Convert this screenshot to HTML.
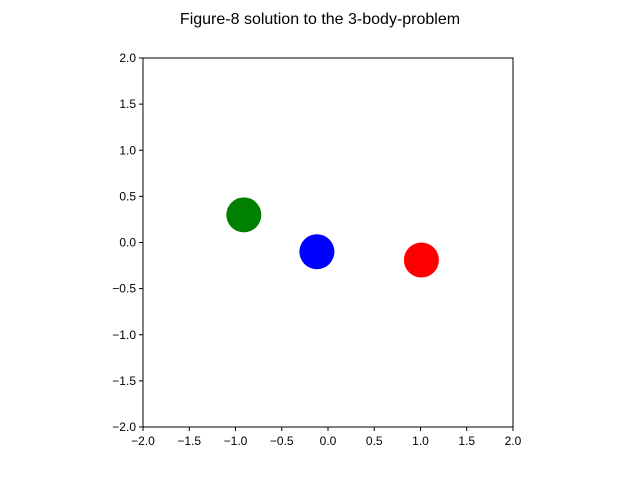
<!DOCTYPE html>
<html><head><meta charset="utf-8"><style>
body{margin:0;background:#fff;}
svg{display:block;font-family:"Liberation Sans","DejaVu Sans",sans-serif;}
</style></head><body>
<svg id="chart" width="640" height="480">
<text x="320" y="24" text-anchor="middle" font-size="16">Figure-8 solution to the 3-body-problem</text>
<g id="bodies"></g>
<rect x="143" y="58" width="370" height="369" fill="none" stroke="#000" stroke-width="1"/>
<g id="xticks"></g>
<g id="yticks"></g>
</svg>
<script>
const bodyNames = ["green", "blue", "red"];
const bodyX = [-0.91, -0.12, 1.01];
const bodyY = [0.30, -0.10, -0.19];
const bodyColors = ["green", "blue", "red"];
const tickValues = [-2.0, -1.5, -1.0, -0.5, 0.0, 0.5, 1.0, 1.5, 2.0];
const tickLabels = ["\u22122.0","\u22121.5","\u22121.0","\u22120.5","0.0","0.5","1.0","1.5","2.0"];
const NS="http://www.w3.org/2000/svg";
const x0=143,x1=513,y0=58,y1=427;
function sx(v){return x0+(v+2)/4*(x1-x0);}
function sy(v){return y1-(v+2)/4*(y1-y0);}
function mk(tag,attrs,parent){const e=document.createElementNS(NS,tag);for(const k in attrs)e.setAttribute(k,attrs[k]);parent.appendChild(e);return e;}
const gb=document.getElementById('bodies');
for(let i=0;i<bodyX.length;i++){
  const c=mk('circle',{cx:sx(bodyX[i]),cy:sy(bodyY[i]),r:17.5,fill:bodyColors[i]},gb);
  
  
}
const gx=document.getElementById('xticks'),gy=document.getElementById('yticks');
for(let i=0;i<tickValues.length;i++){
  const X=sx(tickValues[i]);
  mk('line',{x1:X,x2:X,y1:y1,y2:y1+4,stroke:'#000'},gx);
  const t=mk('text',{x:X,y:y1+18,'text-anchor':'middle','font-size':'12'},gx);
  t.textContent=tickLabels[i];
  
  
  const Y=sy(tickValues[i]);
  mk('line',{x1:x0-4,x2:x0,y1:Y,y2:Y,stroke:'#000'},gy);
  const u=mk('text',{x:x0-7,y:Y+4,'text-anchor':'end','font-size':'12'},gy);
  u.textContent=tickLabels[i];
  
  
}
</script>
</body></html>
